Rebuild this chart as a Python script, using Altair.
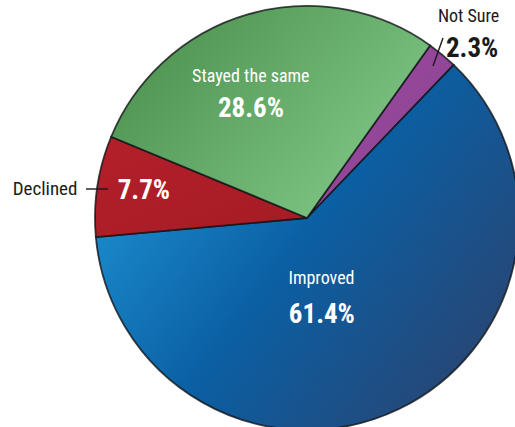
import math
import altair as alt
import pandas as pd

categories = ["Not Sure", "Improved", "Declined", "Stayed the same"]
shares = [2.3, 61.4, 7.7, 28.6]
labels = ["2.3%", "61.4%", "7.7%", "28.6%"]

df = pd.DataFrame({"category": categories, "share": shares, "label": labels,
                   "idx": list(range(len(categories)))})

FONT = "Roboto Condensed"
START = math.radians(35.5)
CX, CY, R = 307, 218, 212

theta_scale = alt.Scale(domain=[0, 100], range=[START, START + 2 * math.pi])

base = (
    alt.Chart(df)
    .transform_stack(stack="share", groupby=[], as_=["s0", "s1"],
                     sort=[alt.SortField("idx", order="ascending")])
    .transform_calculate(mid="(datum.s0 + datum.s1) / 2")
)


def grad(stops, x1=0, y1=0, x2=1, y2=1):
    return alt.LinearGradient(
        gradient="linear",
        stops=[alt.GradientStop(color=c, offset=o) for o, c in stops],
        x1=x1, y1=y1, x2=x2, y2=y2,
    )


fills = {
    "Not Sure": grad([(0, "#9c4ea0"), (1, "#8a3f8f")]),
    "Improved": grad([(0, "#1d93d4"), (0.45, "#0b5fa3"), (1, "#2d416c")], 0, 0.25, 1, 0.9),
    "Declined": grad([(0, "#b4202a"), (1, "#a51b25")]),
    "Stayed the same": grad([(0, "#4b904d"), (1, "#84ca8a")], 0, 0.2, 1, 0.8),
}


def slice_layer(cat):
    return base.transform_filter(alt.datum.category == cat).mark_arc(
        radius=R, fill=fills[cat], stroke="#101418", strokeWidth=1.8, strokeOpacity=0.8
    ).encode(
        theta=alt.Theta("s0:Q", scale=theta_scale),
        theta2="s1:Q",
        x=alt.value(CX),
        y=alt.value(CY),
    )


def text_layer(cat, field, radius, dx, dy, size, weight, color):
    return base.transform_filter(alt.datum.category == cat).mark_text(
        radius=radius, dx=dx, dy=dy, fontSize=size, fontWeight=weight,
        color=color, font=FONT, baseline="middle", align="center"
    ).encode(
        theta=alt.Theta("mid:Q", scale=theta_scale),
        text=alt.Text(f"{field}:N"),
        x=alt.value(CX),
        y=alt.value(CY),
    )


slices = [slice_layer(c) for c in categories]

texts = [
    text_layer("Stayed the same", "category", 146, -16, -1, 18, "normal", "white"),
    text_layer("Stayed the same", "label", 113, -25, 0, 27, "bold", "white"),
    text_layer("Improved", "category", 68, -15, 0, 18, "normal", "white"),
    text_layer("Improved", "label", 108, -32, 0, 27, "bold", "white"),
    text_layer("Declined", "label", 165, 0, -2, 27, "bold", "white"),
    text_layer("Declined", "category", 265, 0, 11, 19, "normal", "#1a1a1a"),
    text_layer("Not Sure", "category", 258, -3, -2, 18, "normal", "#1a1a1a"),
    text_layer("Not Sure", "label", 215, 28, -3, 27, "bold", "#1a1a1a"),
]

leader_decl = alt.Chart(df).transform_filter(alt.datum.category == "Declined").mark_rule(
    color="#1a1a1a", strokeWidth=1.4
).encode(x=alt.value(86), x2=alt.value(108), y=alt.value(189))

leader_ns = alt.Chart(df).transform_filter(alt.datum.category == "Not Sure").mark_rule(
    color="#1a1a1a", strokeWidth=1.4
).encode(x=alt.value(433), x2=alt.value(443), y=alt.value(66), y2=alt.value(38))

chart = alt.layer(*slices, *texts, leader_decl, leader_ns).properties(
    width=515, height=427, padding=0, autosize=alt.AutoSizeParams(type="none")
).configure_view(stroke=None)

chart.save("out.html", embed_options={"renderer": "svg", "actions": False})
